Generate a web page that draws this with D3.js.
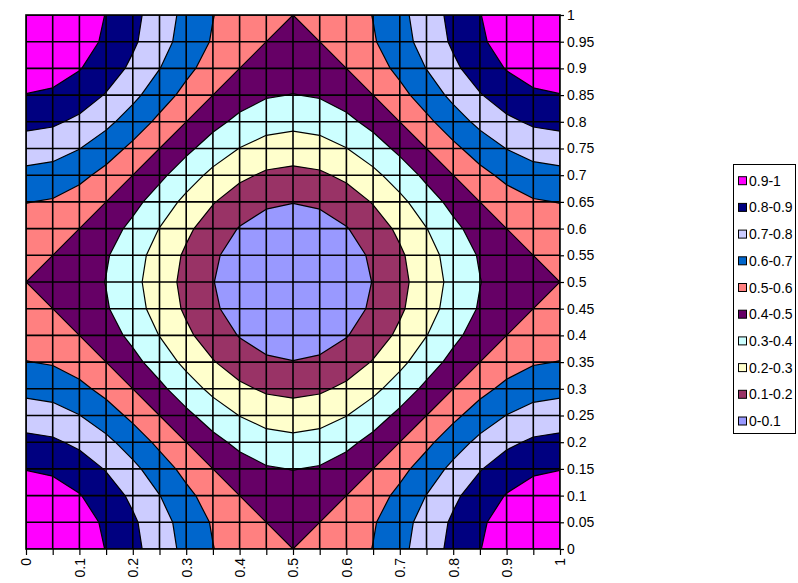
<!DOCTYPE html>
<html>
<head>
<meta charset="utf-8">
<script src="https://cdn.jsdelivr.net/npm/d3@7"></script>
<style>
  body { margin: 0; background: #ffffff; }
  text { font-family: "Liberation Sans", Arial, sans-serif; fill: #000; }
</style>
</head>
<body>
<div id="chart"></div>
<script>
/* ********* ********* ********* ********* ********* ********* *********
 * Data
 * ********* ********* ********* ********* ********* ********* ********* */
var xValues = [0, 0.05, 0.1, 0.15, 0.2, 0.25, 0.3, 0.35, 0.4, 0.45, 0.5,
               0.55, 0.6, 0.65, 0.7, 0.75, 0.8, 0.85, 0.9, 0.95, 1];
var yValues = [0, 0.05, 0.1, 0.15, 0.2, 0.25, 0.3, 0.35, 0.4, 0.45, 0.5,
               0.55, 0.6, 0.65, 0.7, 0.75, 0.8, 0.85, 0.9, 0.95, 1];
var xTickLabels = ["0", "", "0.1", "", "0.2", "", "0.3", "", "0.4", "", "0.5",
                   "", "0.6", "", "0.7", "", "0.8", "", "0.9", "", "1"];
var yTickLabels = ["0", "0.05", "0.1", "0.15", "0.2", "0.25", "0.3", "0.35", "0.4", "0.45", "0.5",
                   "0.55", "0.6", "0.65", "0.7", "0.75", "0.8", "0.85", "0.9", "0.95", "1"];

var thresholds = [0.1, 0.2, 0.3, 0.4, 0.5, 0.6, 0.7, 0.8, 0.9];
var bandLabels = ["0-0.1", "0.1-0.2", "0.2-0.3", "0.3-0.4", "0.4-0.5",
                  "0.5-0.6", "0.6-0.7", "0.7-0.8", "0.8-0.9", "0.9-1"];
var bandColors = ["#9999ff", "#993366", "#ffffcc", "#ccffff", "#660066",
                  "#ff8080", "#0066cc", "#ccccff", "#000080", "#ff00ff"];

// surface values, one row per y value (y = 0 first)
var zValues = [
  [1.000,.988,.952,.897,.827,.750,.673,.603,.548,.512,.500,.512,.548,.603,.673,.750,.827,.897,.952,.988,1.000],
  [.988,.976,.940,.885,.815,.738,.661,.591,.536,.500,.488,.500,.536,.591,.661,.738,.815,.885,.940,.976,.988],
  [.952,.940,.905,.849,.780,.702,.625,.555,.500,.464,.452,.464,.500,.555,.625,.702,.780,.849,.905,.940,.952],
  [.897,.885,.849,.794,.724,.647,.570,.500,.445,.409,.397,.409,.445,.500,.570,.647,.724,.794,.849,.885,.897],
  [.827,.815,.780,.724,.655,.577,.500,.430,.375,.339,.327,.339,.375,.430,.500,.577,.655,.724,.780,.815,.827],
  [.750,.738,.702,.647,.577,.500,.423,.353,.298,.262,.250,.262,.298,.353,.423,.500,.577,.647,.702,.738,.750],
  [.673,.661,.625,.570,.500,.423,.345,.276,.220,.185,.173,.185,.220,.276,.345,.423,.500,.570,.625,.661,.673],
  [.603,.591,.555,.500,.430,.353,.276,.206,.151,.115,.103,.115,.151,.206,.276,.353,.430,.500,.555,.591,.603],
  [.548,.536,.500,.445,.375,.298,.220,.151,.095,.060,.048,.060,.095,.151,.220,.298,.375,.445,.500,.536,.548],
  [.512,.500,.464,.409,.339,.262,.185,.115,.060,.024,.012,.024,.060,.115,.185,.262,.339,.409,.464,.500,.512],
  [.500,.488,.452,.397,.327,.250,.173,.103,.048,.012,.000,.012,.048,.103,.173,.250,.327,.397,.452,.488,.500],
  [.512,.500,.464,.409,.339,.262,.185,.115,.060,.024,.012,.024,.060,.115,.185,.262,.339,.409,.464,.500,.512],
  [.548,.536,.500,.445,.375,.298,.220,.151,.095,.060,.048,.060,.095,.151,.220,.298,.375,.445,.500,.536,.548],
  [.603,.591,.555,.500,.430,.353,.276,.206,.151,.115,.103,.115,.151,.206,.276,.353,.430,.500,.555,.591,.603],
  [.673,.661,.625,.570,.500,.423,.345,.276,.220,.185,.173,.185,.220,.276,.345,.423,.500,.570,.625,.661,.673],
  [.750,.738,.702,.647,.577,.500,.423,.353,.298,.262,.250,.262,.298,.353,.423,.500,.577,.647,.702,.738,.750],
  [.827,.815,.780,.724,.655,.577,.500,.430,.375,.339,.327,.339,.375,.430,.500,.577,.655,.724,.780,.815,.827],
  [.897,.885,.849,.794,.724,.647,.570,.500,.445,.409,.397,.409,.445,.500,.570,.647,.724,.794,.849,.885,.897],
  [.952,.940,.905,.849,.780,.702,.625,.555,.500,.464,.452,.464,.500,.555,.625,.702,.780,.849,.905,.940,.952],
  [.988,.976,.940,.885,.815,.738,.661,.591,.536,.500,.488,.500,.536,.591,.661,.738,.815,.885,.940,.976,.988],
  [1.000,.988,.952,.897,.827,.750,.673,.603,.548,.512,.500,.512,.548,.603,.673,.750,.827,.897,.952,.988,1.000]
];

/* ********* ********* ********* ********* ********* ********* *********
 * Layout
 * ********* ********* ********* ********* ********* ********* ********* */
var W = 798, H = 583;
var plot = { left: 26, top: 15, right: 560, bottom: 549 };

var svg = d3.select("#chart").append("svg")
  .attr("width", W)
  .attr("height", H);

var x = d3.scaleLinear().domain([0, 1]).range([plot.left, plot.right]);
var y = d3.scaleLinear().domain([0, 1]).range([plot.bottom, plot.top]);

// d3.contours puts grid node i at i + 0.5
var nx = xValues.length, ny = yValues.length;
var gx = d3.scaleLinear().domain([0.5, nx - 0.5]).range([x(xValues[0]), x(xValues[nx - 1])]);
var gy = d3.scaleLinear().domain([0.5, ny - 0.5]).range([y(yValues[0]), y(yValues[ny - 1])]);
var path = d3.geoPath(d3.geoTransform({
  point: function(px, py) { this.stream.point(gx(px), gy(py)); }
}));

svg.append("clipPath").attr("id", "plotClip")
  .append("rect")
    .attr("x", plot.left).attr("y", plot.top)
    .attr("width", plot.right - plot.left)
    .attr("height", plot.bottom - plot.top);

/* ********* ********* ********* ********* ********* ********* *********
 * Contour bands
 * ********* ********* ********* ********* ********* ********* ********* */
var flat = [];
zValues.forEach(function(row) { row.forEach(function(v) { flat.push(v); }); });

var bands = d3.contours().size([nx, ny]).thresholds(thresholds)(flat);

var g = svg.append("g").attr("clip-path", "url(#plotClip)");

g.append("rect")
  .attr("x", plot.left).attr("y", plot.top)
  .attr("width", plot.right - plot.left)
  .attr("height", plot.bottom - plot.top)
  .style("fill", bandColors[0]);

g.selectAll("path.band")
  .data(bands)
  .enter().append("path")
    .attr("class", "band")
    .attr("d", path)
    .style("fill", function(d, i) { return bandColors[i + 1]; })
    .style("stroke", "#000")
    .style("stroke-width", 1.2)
    .style("stroke-linejoin", "round");

/* grid lines */
g.selectAll("line.vgrid")
  .data(xValues)
  .enter().append("line")
    .attr("x1", function(d) { return x(d); })
    .attr("x2", function(d) { return x(d); })
    .attr("y1", plot.top).attr("y2", plot.bottom)
    .style("stroke", "#000").style("stroke-width", 1.6);

g.selectAll("line.hgrid")
  .data(yValues)
  .enter().append("line")
    .attr("y1", function(d) { return y(d); })
    .attr("y2", function(d) { return y(d); })
    .attr("x1", plot.left).attr("x2", plot.right)
    .style("stroke", "#000").style("stroke-width", 1.6);

svg.append("rect")
  .attr("x", plot.left).attr("y", plot.top)
  .attr("width", plot.right - plot.left)
  .attr("height", plot.bottom - plot.top)
  .style("fill", "none")
  .style("stroke", "#000")
  .style("stroke-width", 1.6);

/* ********* ********* ********* ********* ********* ********* *********
 * Axes
 * ********* ********* ********* ********* ********* ********* ********* */
var xAxis = svg.append("g")
  .attr("transform", "translate(0," + plot.bottom + ")")
  .call(d3.axisBottom(x)
    .tickValues(xValues)
    .tickSize(6)
    .tickPadding(4)
    .tickFormat(function(d, i) { return xTickLabels[i]; }));

xAxis.selectAll("text")
  .attr("transform", "rotate(-90)")
  .attr("x", -9)
  .attr("y", 0)
  .attr("dy", "0.35em")
  .style("text-anchor", "end");

var yAxis = svg.append("g")
  .attr("transform", "translate(" + plot.right + ",0)")
  .call(d3.axisRight(y)
    .tickValues(yValues)
    .tickSize(4)
    .tickPadding(3)
    .tickFormat(function(d, i) { return yTickLabels[i]; }));

[xAxis, yAxis].forEach(function(a) {
  a.select(".domain").remove();
  a.selectAll("line").style("stroke", "#000").style("stroke-width", 1.2);
  a.selectAll("text")
    .style("font-size", "14px")
    .style("font-family", "'Liberation Sans', Arial, sans-serif")
    .style("fill", "#000");
});

/* ********* ********* ********* ********* ********* ********* *********
 * Legend
 * ********* ********* ********* ********* ********* ********* ********* */
var legend = svg.append("g").attr("transform", "translate(733,164)");
legend.append("rect")
  .attr("x", 0.5).attr("y", 0.5)
  .attr("width", 62).attr("height", 269)
  .style("fill", "#fff")
  .style("stroke", "#000")
  .style("stroke-width", 1);

var items = legend.selectAll("g.item")
  .data(d3.range(bandLabels.length).reverse())
  .enter().append("g")
    .attr("class", "item")
    .attr("transform", function(d, i) { return "translate(0," + (16.7 + i * 26.7) + ")"; });

items.append("rect")
  .attr("x", 5.5).attr("y", -4)
  .attr("width", 8).attr("height", 8)
  .style("fill", function(d) { return bandColors[d]; })
  .style("stroke", "#000")
  .style("stroke-width", 1);

items.append("text")
  .attr("x", 16)
  .attr("y", 0)
  .attr("dy", "0.36em")
  .style("font-size", "14px")
  .text(function(d) { return bandLabels[d]; });
</script>
</body>
</html>
